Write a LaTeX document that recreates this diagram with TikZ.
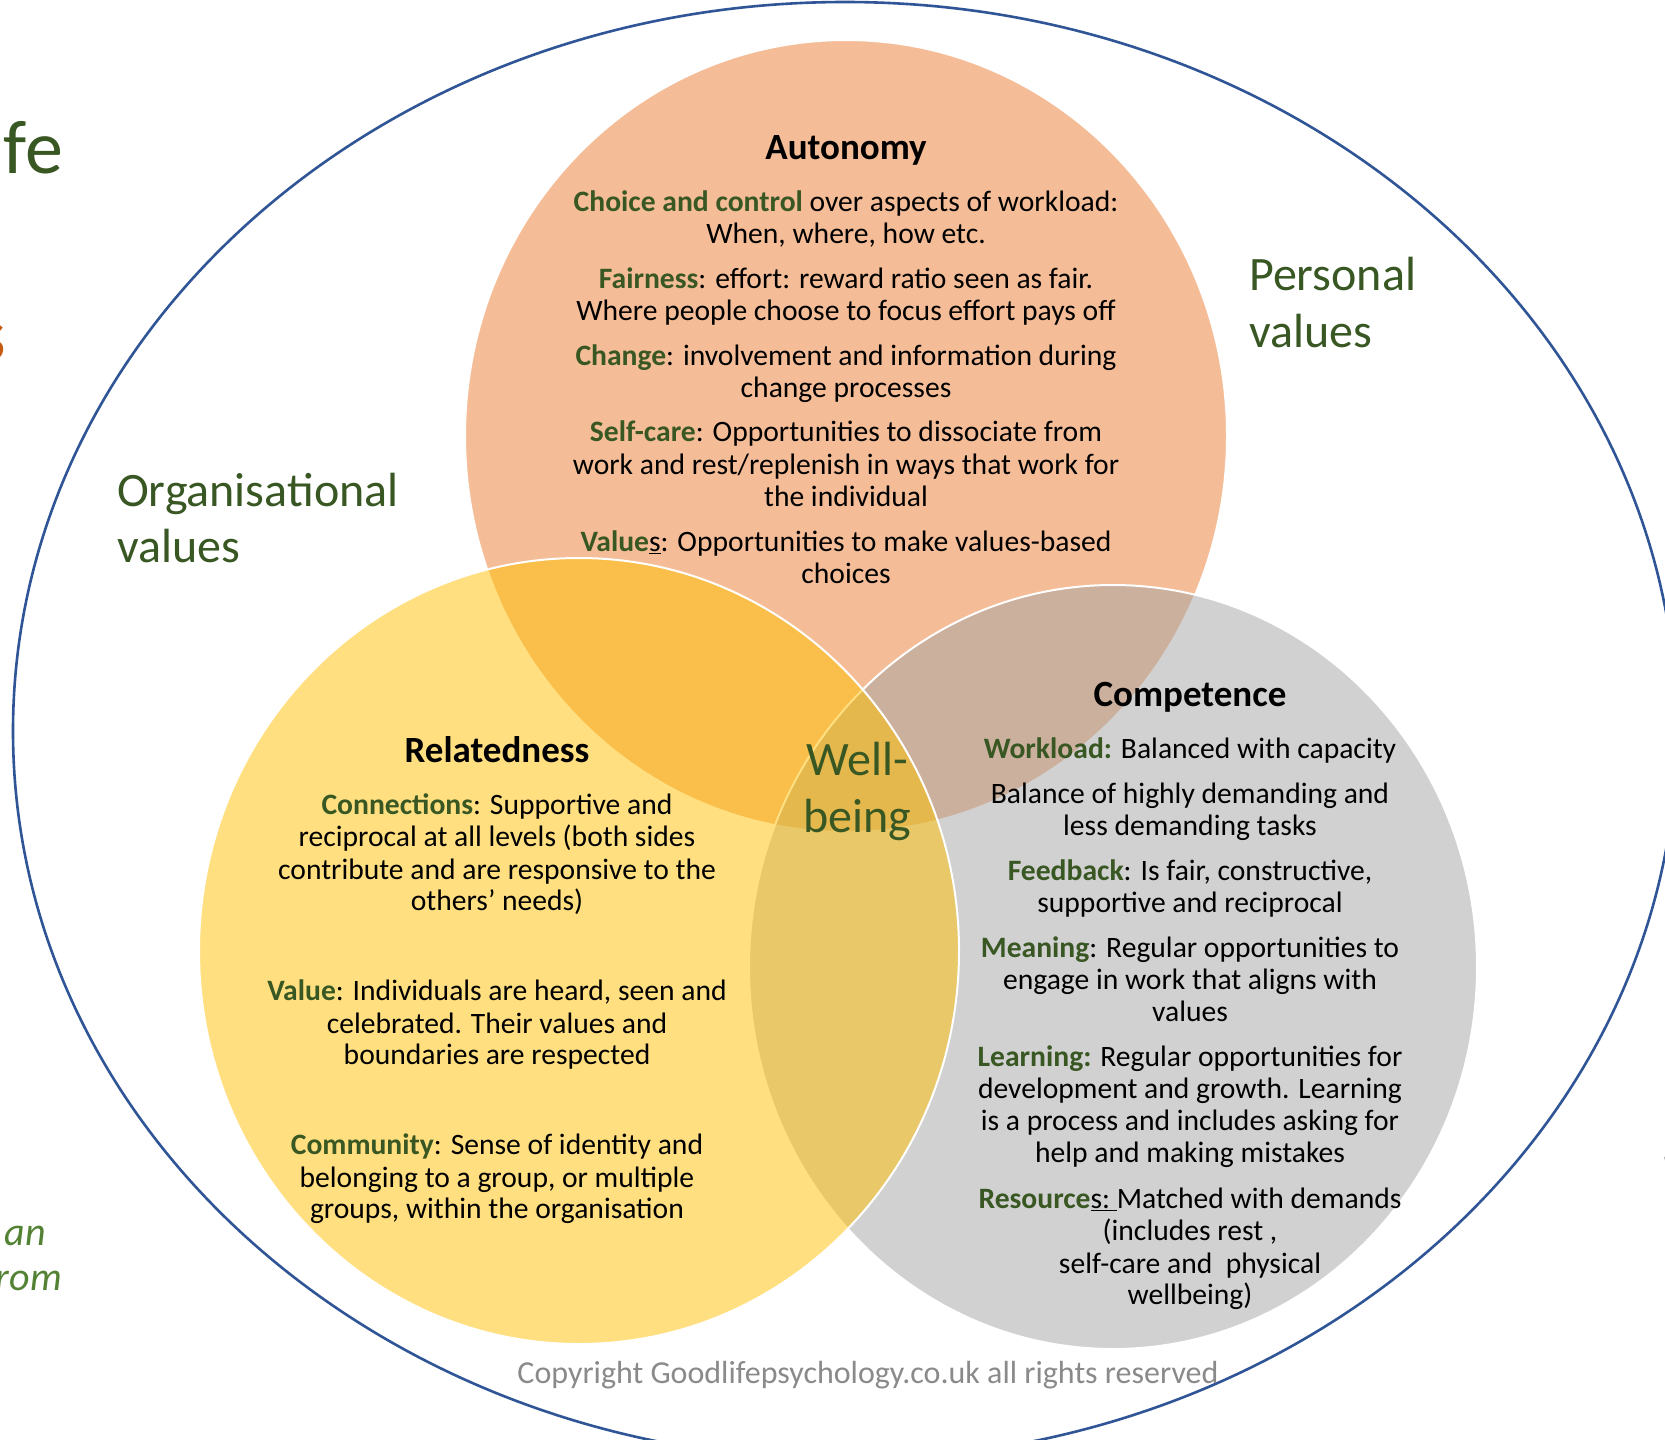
\documentclass[tikz,border=0pt]{standalone}
\usepackage{fontspec}
\setmainfont{Carlito}
\definecolor{orgfill}{HTML}{ED7D31}
\definecolor{yelfill}{HTML}{FFC000}
\definecolor{grayfill}{HTML}{A5A5A5}
\definecolor{dgreen}{HTML}{385723}
\definecolor{outline}{HTML}{2F5597}
\definecolor{copygray}{HTML}{8A8A8A}
\definecolor{titleorange}{HTML}{C55A11}
\definecolor{handgreen}{HTML}{548235}
\tikzset{
  venn/.style={draw=white, line width=2pt, fill opacity=0.5},
  body/.style={anchor=mid, inner sep=0pt, font=\fontsize{29.6}{32}\selectfont, text=black, yshift=-8pt},
  head/.style={anchor=mid, inner sep=0pt, font=\fontsize{37}{40}\selectfont\bfseries, text=black, yshift=-8pt},
  big/.style={inner sep=0pt, font=\fontsize{48}{56}\selectfont, text=dgreen, yshift=-13pt},
  hand/.style={anchor=base east, inner sep=0pt, font=\fontsize{40}{44}\selectfont\itshape, text=handgreen},
}
\newcommand\kw[1]{\textbf{\textcolor{dgreen}{#1}}}
\begin{document}
\begin{tikzpicture}[x=1pt,y=-1pt]
\useasboundingbox (0,0) rectangle (1665,1440);
\clip (0,0) rectangle (1665,1440);
\fill[white] (0,0) rectangle (1665,1440);
% outer boundary
\draw[outline, line width=2.6pt] (845,731) ellipse [x radius=832pt, y radius=729pt];
% venn circles
\path[venn, fill=orgfill] (846,436) ellipse [x radius=381pt, y radius=396pt];
\path[venn, fill=grayfill] (1113,967) ellipse [x radius=364pt, y radius=382pt];
\path[venn, fill=yelfill] (579,951) ellipse [x radius=380pt, y radius=393pt];
% cut-off title pieces on the left
\node[anchor=base east, inner sep=0pt, font=\fontsize{76}{80}\selectfont, text=dgreen] (fe) at (63,173) {fe};
\node[anchor=base east, inner sep=0pt, font=\fontsize{76}{80}\selectfont, text=titleorange] (ess) at (6,360) {s};
\node[hand] (han) at (46,1245) {an};
\node[hand] (hfrom) at (62,1290) {from};
% small cut-off mark at the right edge
\draw[black!80, line width=3pt, line cap=round] (1666,1157) arc[start angle=180, end angle=250, radius=9pt];
\draw[black!80, line width=3pt, line cap=round] (1668,1200) arc[start angle=160, end angle=250, radius=12pt];
% Autonomy
\node[head] (ah) at (846,149) {Autonomy};
\node[body] (a1) at (846,201) {\kw{Choice and control} over aspects of workload:};
\node[body] (a2) at (846,233) {When, where, how etc.};
\node[body] (a3) at (846,278) {\kw{Fairness}: effort: reward ratio seen as fair.};
\node[body] (a4) at (846,310) {Where people choose to focus effort pays off};
\node[body] (a5) at (846,355) {\kw{Change}: involvement and information during};
\node[body] (a6) at (846,387) {change processes};
\node[body] (a7) at (846,431) {\kw{Self-care}: Opportunities to dissociate from};
\node[body] (a8) at (846,464) {work and rest/replenish in ways that work for};
\node[body] (a9) at (846,496) {the individual};
\node[body] (a10) at (846,541) {\kw{Value}\underline{s}: Opportunities to make values-based};
\node[body] (a11) at (846,573) {choices};
% Relatedness
\node[head] (rh) at (497,752) {Relatedness};
\node[body] (r1) at (497,804) {\kw{Connections}: Supportive and};
\node[body] (r2) at (497,836) {reciprocal at all levels (both sides};
\node[body] (r3) at (497,869) {contribute and are responsive to the};
\node[body] (r4) at (497,900) {others’ needs)};
\node[body] (r5) at (497,990) {\kw{Value}: Individuals are heard, seen and};
\node[body] (r6) at (497,1023) {celebrated. Their values and};
\node[body] (r7) at (497,1054) {boundaries are respected};
\node[body] (r8) at (497,1144) {\kw{Community}: Sense of identity and};
\node[body] (r9) at (497,1177) {belonging to a group, or multiple};
\node[body] (r10) at (497,1208) {groups, within the organisation};
% Competence
\node[head] (ch) at (1190,696) {Competence};
\node[body] (c1) at (1190,748) {\kw{Workload:} Balanced with capacity};
\node[body] (c2) at (1190,793) {Balance of highly demanding and};
\node[body] (c3) at (1190,825) {less demanding tasks};
\node[body] (c4) at (1190,870) {\kw{Feedback}: Is fair, constructive,};
\node[body] (c5) at (1190,902) {supportive and reciprocal};
\node[body] (c6) at (1190,947) {\kw{Meaning}: Regular opportunities to};
\node[body] (c7) at (1190,979) {engage in work that aligns with};
\node[body] (c8) at (1190,1011) {values};
\node[body] (c9) at (1190,1056) {\kw{Learning:} Regular opportunities for};
\node[body] (c10) at (1190,1088) {development and growth. Learning};
\node[body] (c11) at (1190,1120) {is a process and includes asking for};
\node[body] (c12) at (1190,1152) {help and making mistakes};
\node[body] (c13) at (1190,1198) {\kw{Resource}\underline{s:\ }Matched with demands};
\node[body] (c14) at (1190,1230) {(includes rest ,};
\node[body] (c15) at (1190,1263) {self-care and\ \ physical};
\node[body] (c16) at (1190,1294) {wellbeing)};
% large labels
\node[big, anchor=mid west] (ov1) at (117,491) {Organisational};
\node[big, anchor=mid west] (ov2) at (117,547) {values};
\node[big, anchor=mid west] (pv1) at (1249,275) {Personal};
\node[big, anchor=mid west] (pv2) at (1249,332) {values};
\node[big, anchor=mid] (wb1) at (857,760) {Well-};
\node[big, anchor=mid] (wb2) at (857,817) {being};
% copyright
\node[anchor=mid, inner sep=0pt, font=\fontsize{32}{36}\selectfont, text=copygray, yshift=-7pt] (copy) at (868,1374) {Copyright Goodlifepsychology.co.uk all rights reserved};
\end{tikzpicture}
\end{document}
